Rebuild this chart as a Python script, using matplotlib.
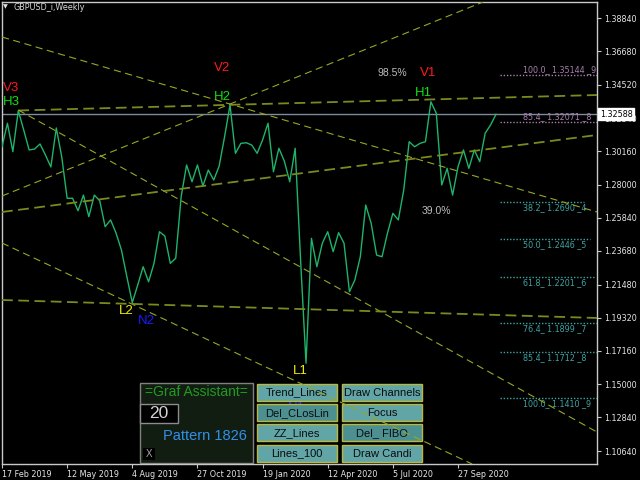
import matplotlib
matplotlib.use('Agg')
import matplotlib.pyplot as plt
from matplotlib.patches import Rectangle

plt.rcParams['font.family'] = ['DejaVu Sans']

# weekly closes GBPUSD, week 0 = 17 Feb 2019
closes = [1.3047, 1.3200, 1.3015, 1.3282, 1.3156, 1.3026, 1.3032, 1.3065, 1.2993, 1.2915,
          1.3169, 1.2982, 1.2711, 1.2711, 1.2630, 1.2732, 1.2591, 1.2732, 1.2695, 1.2526,
          1.2570, 1.2485, 1.2374, 1.2200, 1.2031, 1.2146, 1.2265, 1.2167, 1.2287, 1.2493,
          1.2465, 1.2287, 1.2320, 1.2721, 1.2928, 1.2819, 1.2928, 1.2791, 1.2895, 1.2830,
          1.2921, 1.3112, 1.3319, 1.3004, 1.3069, 1.3073, 1.3058, 1.3004, 1.3091, 1.3200,
          1.2884, 1.3037, 1.2954, 1.2819, 1.3037, 1.2309, 1.1636, 1.2450, 1.2265, 1.2418,
          1.2493, 1.2363, 1.2487, 1.2418, 1.2102, 1.2179, 1.2330, 1.2667, 1.2548, 1.2341,
          1.2330, 1.2483, 1.2613, 1.2570, 1.2765, 1.3080, 1.3047, 1.3069, 1.3080, 1.3340,
          1.3265, 1.2798, 1.2906, 1.2732, 1.2917, 1.3026, 1.2906, 1.3026, 1.2950, 1.3135,
          1.3189, 1.32588]
weeks = list(range(len(closes)))
last_price = 1.32588

date_ticks = [0, 12, 24, 36, 48, 60, 72, 84]
date_labels = ['17 Feb 2019', '12 May 2019', '4 Aug 2019', '27 Oct 2019',
               '19 Jan 2020', '12 Apr 2020', '5 Jul 2020', '27 Sep 2020']
price_ticks = [1.38840, 1.36680, 1.34520, 1.32340, 1.30160, 1.28000, 1.25840,
               1.23680, 1.21480, 1.19320, 1.17160, 1.15000, 1.12840, 1.10640]

# trend lines: (week start, price start, week end, price end, thick?)
trend_lines = [
    (0, 1.37621, 109.6, 1.26217, False),
    (3, 1.32831, 109.6, 1.33841, True),
    (3, 1.32864, 109.6, 1.11879, False),
    (0, 1.27259, 88.6, 1.39902, False),
    (0, 1.26217, 109.6, 1.31235, True),
    (0, 1.24197, 86.6, 1.09794, False),
    (0, 1.20482, 109.6, 1.19309, True),
]

# fibo levels
fib_up_levels = ['100.0', '85.4']
fib_up_prices = [1.35144, 1.32071]
fib_up_tags = [9, 8]
fib_dn_levels = ['38.2', '50.0', '61.8', '76.4', '85.4', '100.0']
fib_dn_prices = [1.2690, 1.2446, 1.2201, 1.1899, 1.1712, 1.1410]
fib_dn_tags = [4, 5, 6, 7, 8, 9]
fib_dn_ends = [107.2, 108.3, 109.2, 110, 110, 110]

fig = plt.figure(figsize=(6.4, 4.8), dpi=100, facecolor='black')

# overlay in pixel coords for the panel / labels
ov = fig.add_axes([0, 0, 1, 1], zorder=0)
ov.set_xlim(0, 640)
ov.set_ylim(480, 0)
ov.axis('off')
ov.set_facecolor('black')

ax = fig.add_axes([2 / 640, 16 / 480, 595 / 640, 462 / 480], zorder=1)
ax.set_facecolor('none')
ax.set_xlim(0, 109.6)
ax.set_ylim(1.09794, 1.39902)

ax.axhline(last_price, color='#7d8c9c', lw=1, zorder=1)

for x0, y0, x1, y1, thick in trend_lines:
    if thick:
        ax.plot([x0, x1], [y0, y1], color='#7a8a1e', lw=1.3, dashes=(6, 3), zorder=4)
    else:
        ax.plot([x0, x1], [y0, y1], color='#98a822', lw=0.8, dashes=(6.5, 4), zorder=4)

ax.plot(weeks, closes, color='#1fb46a', lw=1, zorder=3)

for lv, p, t in zip(fib_up_levels, fib_up_prices, fib_up_tags):
    ax.plot([91.8, 110], [p, p], color='#a77fae', lw=1, linestyle=(0, (1, 1.3)))
    ax.annotate('%s_ %.5f _%d' % (lv, p, t), xy=(96.0, p), xytext=(0, 0.6), textcoords='offset points',
                color='#a77fae', fontsize=5.8, ha='left', va='bottom')
for lv, p, t, e in zip(fib_dn_levels, fib_dn_prices, fib_dn_tags, fib_dn_ends):
    ax.plot([91.8, e], [p, p], color='#3fa4a4', lw=1, linestyle=(0, (1, 1.3)))
    ax.annotate('%s_ %.4f _%d' % (lv, p, t), xy=(96.0, p), xytext=(0, -1), textcoords='offset points',
                color='#3fa4a4', fontsize=5.8, ha='left', va='top')

for s in ax.spines.values():
    s.set_color('#c8c8c8')
    s.set_linewidth(1)
ax.yaxis.tick_right()
ax.set_yticks(price_ticks)
ax.set_yticklabels(['%.5f' % v for v in price_ticks])
ax.set_xticks(date_ticks)
ax.set_xticklabels(date_labels, ha='left')
ax.tick_params(axis='y', colors='#c8c8c8', labelcolor='#e6e6e6', labelsize=5.8, length=3, pad=2)
ax.tick_params(axis='x', colors='#c8c8c8', labelcolor='#e6e6e6', labelsize=5.8, length=3, pad=1.5)

ax.annotate('%.5f' % last_price, xy=(1, last_price), xycoords=('axes fraction', 'data'),
            xytext=(2.2, 0), textcoords='offset points', ha='left', va='center',
            fontsize=5.8, color='black', zorder=10, annotation_clip=False,
            bbox=dict(boxstyle='square,pad=0.2', fc='white', ec='white'))

# header
ov.text(3, 7, '\u25bc', color='#e0e0e0', fontsize=4.5, va='center', ha='left')
ov.text(14, 7, 'GBPUSD_i,Weekly', color='#d8d8d8', fontsize=5.8, va='center', ha='left')

# pivot labels
lab = dict(family=['Liberation Sans', 'DejaVu Sans'], fontsize=9.5, va='center', ha='left', zorder=5)
ov.text(2.5, 88, 'V3', color='#ff1a1a', **lab)
ov.text(2.5, 102, 'H3', color='#10e010', **lab)
ov.text(214, 68, 'V2', color='#ff1a1a', **lab)
ov.text(213.5, 96.5, 'H2', color='#10e010', **lab)
ov.text(420, 73, 'V1', color='#ff1a1a', **lab)
ov.text(414.5, 93, 'H1', color='#10e010', **lab)
ov.text(118.5, 311.5, 'L2', color='#f0f000', **lab)
ov.text(137.5, 321.5, 'N2', color='#1a1aff', **lab)
ov.text(292.5, 371.5, 'L1', color='#f0f000', **lab)
ov.text(288, 408, 'N1', color='#1a1aff', **dict(lab, zorder=2))
ov.text(378, 73, '98.5%', color='#bdbdbd', family=['Liberation Sans'], fontsize=7.5, va='center')
ov.text(421.5, 211, '39.0%', color='#bdbdbd', family=['Liberation Sans'], fontsize=7.5, va='center')

# assistant panel
ov.add_patch(Rectangle((140, 383), 113, 80, fc='#121d12', ec='#808080', lw=1, zorder=3))
ov.text(196, 392, '=Graf Assistant=', color='#229a22', family=['Liberation Sans'], fontsize=10,
        ha='center', va='center', zorder=4)
ov.add_patch(Rectangle((140, 404), 37.5, 19, fc='black', ec='#8c8c8c', lw=1, zorder=4))
ov.text(159, 413.5, '20', color='#d4d4d4', family=['Liberation Sans'], fontsize=12.5,
        ha='center', va='center', zorder=5)
ov.text(247, 436.5, 'Pattern 1826', color='#2f90ea', family=['Liberation Sans'], fontsize=10.5,
        ha='right', va='center', zorder=4)
ov.add_patch(Rectangle((142.5, 447.5), 12.5, 12.5, fc='black', ec='none', zorder=4))
ov.text(148.7, 454, 'X', color='#a8a8a8', family=['Liberation Sans'], fontsize=7,
        ha='center', va='center', zorder=5)

buttons = [['Trend_Lines', 'Draw Channels'], ['Del_CLosLin', 'Focus'],
           ['ZZ_Lines', 'Del_ FIBO'], ['Lines_100', 'Draw Candi']]
dark = ['Del_CLosLin', 'Del_ FIBO']
col_x = [256.7, 341.7]
row_y = [384, 404.3, 424.3, 445]
for r, row in enumerate(buttons):
    for c, name in enumerate(row):
        fc = '#4d9092' if name in dark else '#62a5a7'
        ov.add_patch(Rectangle((col_x[c], row_y[r]), 80.6, 16.7, fc=fc, ec='#b9b93c', lw=1, zorder=3))
        ov.text(col_x[c] + 40.3, row_y[r] + 8.6, name, color='#0c0c0c', family=['Liberation Sans'],
                fontsize=8, ha='center', va='center', zorder=4)

fig.savefig('out.png', dpi=100, facecolor='black')
